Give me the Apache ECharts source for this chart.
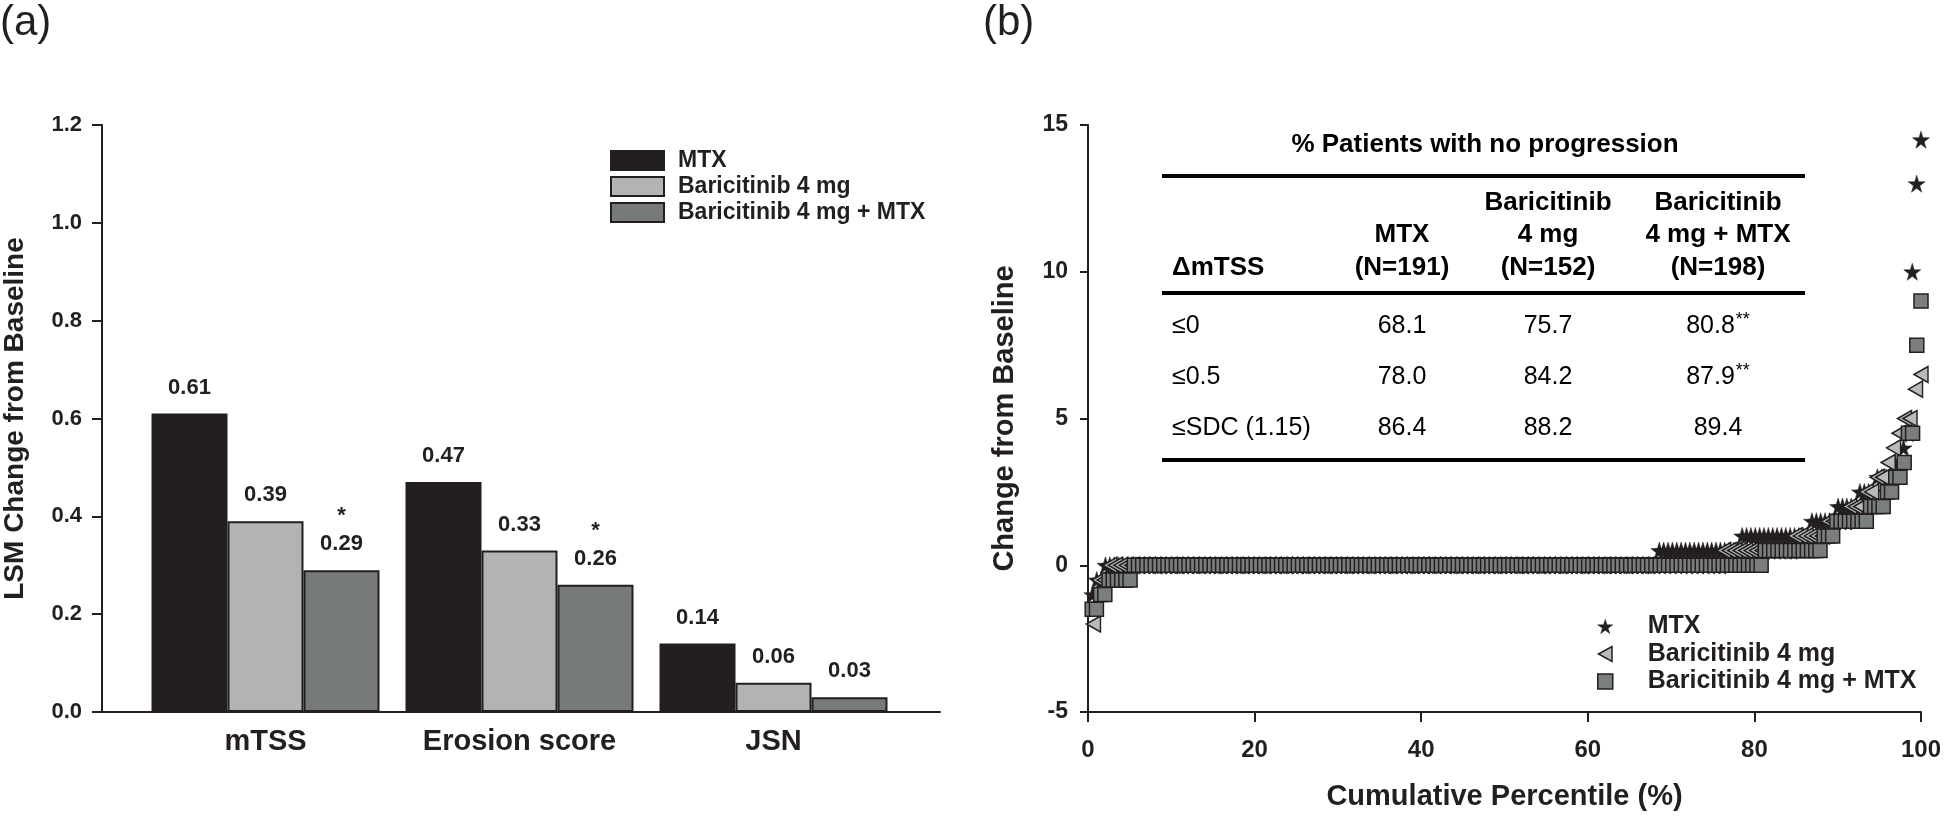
<!DOCTYPE html>
<html>
<head>
<meta charset="utf-8">
<script src="https://cdn.jsdelivr.net/npm/echarts@6/dist/echarts.min.js"></script>
<style>
html, body { margin: 0; padding: 0; background: #fff; }
#chart { width: 1946px; height: 816px; }
</style>
</head>
<body>
<div id="chart"></div>
<script>
// (a) LSM change from baseline
var categories = ["mTSS", "Erosion score", "JSN"];
var groupNames = ["MTX", "Baricitinib 4 mg", "Baricitinib 4 mg + MTX"];
var mtxChange = [0.61, 0.47, 0.14];
var bari4Change = [0.39, 0.33, 0.06];
var comboChange = [0.29, 0.26, 0.03];
var comboStars = ["*", "*", ""];

// (b) cumulative plot: [change in mTSS, number of patients]
var mtxRuns = [[-1, 1], [-0.5, 2], [0, 127], [0.5, 19], [1, 16], [1.5, 6], [2, 5], [2.5, 4],
  [3, 4], [3.5, 2], [4, 1], [4.5, 1], [10, 1], [13, 1], [14.5, 1]];
var bari4Runs = [[-2, 1], [-0.5, 2], [0, 112], [0.5, 13], [1, 6], [1.5, 4], [2, 3], [2.5, 2],
  [3, 2], [3.5, 1], [4, 1], [4.5, 1], [5, 2], [6, 1], [6.5, 1]];
var comboRuns = [[-1.5, 2], [-1, 2], [-0.5, 6], [0, 150], [0.5, 14], [1, 3], [1.5, 8], [2, 4],
  [2.5, 2], [3, 2], [3.5, 1], [4.5, 2], [7.5, 1], [9, 1]];

// inset table
var tableTitle = "% Patients with no progression";
var tableHeaders = ["MTX\n(N=191)", "Baricitinib\n4 mg\n(N=152)", "Baricitinib\n4 mg + MTX\n(N=198)"];
var tableRowLabels = ["≤0", "≤0.5", "≤SDC (1.15)"];
var tableValues = [["68.1", "75.7", "80.8"], ["78.0", "84.2", "87.9"], ["86.4", "88.2", "89.4"]];
var tableMarks = [["", "", "**"], ["", "", "**"], ["", "", ""]];

var font = "'Liberation Sans', Arial, sans-serif";
var ink = "#231f20";
var starPath = "path://M50,0 L61,35 L98,35 L68,57 L79,91 L50,70 L21,91 L32,57 L2,35 L39,35 Z";
var triPath = "path://M0,50 L90,0 L90,100 Z";

function cumulative(runs) {
  var vals = [];
  runs.forEach(function (r) { for (var i = 0; i < r[1]; i++) vals.push(r[0]); });
  return vals.map(function (v, i) { return [(i + 1) / vals.length * 100, v]; });
}

var myChart = echarts.init(document.getElementById("chart"));

var barLabel = {
  show: true, position: "top", distance: 12, fontSize: 22, fontWeight: "bold",
  lineHeight: 28, color: ink, fontFamily: font
};

var graphic = [
  { type: "text", x: 0, y: 23, style: { text: "(a)", font: "42px " + font, fill: ink, textVerticalAlign: "middle", verticalAlign: "middle" } },
  { type: "text", x: 983, y: 23, style: { text: "(b)", font: "42px " + font, fill: ink, textVerticalAlign: "middle", verticalAlign: "middle" } },
  { type: "text", x: 1485, y: 145, style: { text: tableTitle, font: "bold 26px " + font, fill: "#000",
    textAlign: "center", align: "center", textVerticalAlign: "middle", verticalAlign: "middle" } }
];
[176, 293, 460].forEach(function (y) {
  graphic.push({ type: "line", shape: { x1: 1162, y1: y, x2: 1805, y2: y }, style: { stroke: "#000", lineWidth: 4 } });
});
var colX = [1402, 1548, 1718];
graphic.push({ type: "text", x: 1172, y: 284, style: { text: "ΔmTSS", font: "bold 26px " + font, fill: "#000",
  textAlign: "left", align: "left", textVerticalAlign: "bottom", verticalAlign: "bottom", lineHeight: 32 } });
tableHeaders.forEach(function (h, i) {
  graphic.push({ type: "text", x: colX[i], y: 284, style: { text: h, font: "bold 26px " + font, fill: "#000",
    textAlign: "center", align: "center", textVerticalAlign: "bottom", verticalAlign: "bottom", lineHeight: 32.5 } });
});
var rowY = [326, 377, 428];
tableRowLabels.forEach(function (lab, r) {
  graphic.push({ type: "text", x: 1172, y: rowY[r], style: { text: lab, font: "25px " + font, fill: "#000",
    textAlign: "left", align: "left", textVerticalAlign: "middle", verticalAlign: "middle" } });
  tableValues[r].forEach(function (v, c) {
    var mark = tableMarks[r][c];
    graphic.push({ type: "text", x: colX[c], y: rowY[r], style: {
      text: "{v|" + v + "}" + (mark ? "{s|" + mark + "}" : ""),
      fill: "#000", textAlign: "center", align: "center", textVerticalAlign: "middle", verticalAlign: "middle",
      rich: {
        v: { fontSize: 25, fontFamily: font, lineHeight: 30 },
        s: { fontSize: 18, fontFamily: font, lineHeight: 30, verticalAlign: "top", padding: [0, 0, 12, 1] }
      }
    } });
  });
});

var option = {
  animation: false,
  textStyle: { fontFamily: font, color: ink },
  graphic: graphic,
  grid: [
    { left: 100, top: 125, width: 840, height: 587 },
    { left: 138.5, top: 125, width: 762, height: 587 },
    { left: 1088, top: 125, width: 833, height: 587 }
  ],
  legend: [
    {
      orient: "vertical", left: 605, top: 144, itemWidth: 53, itemHeight: 19, itemGap: 3,
      selectedMode: false, icon: "rect",
      data: groupNames,
      textStyle: { fontSize: 23, fontWeight: "bold", color: ink, fontFamily: font, padding: [0, 0, 0, 9] }
    },
    {
      orient: "vertical", left: 1592, top: 609, itemWidth: 15, itemHeight: 15, itemGap: 2.5,
      selectedMode: false,
      data: [
        { name: groupNames[0], icon: starPath, itemStyle: { color: ink, borderColor: ink, borderWidth: 0.5 } },
        { name: groupNames[1], icon: triPath, itemStyle: { color: "#b9bbbb", borderColor: ink, borderWidth: 1.5 } },
        { name: groupNames[2], icon: "rect", itemStyle: { color: "#7a7e7f", borderColor: ink, borderWidth: 1.5 } }
      ],
      textStyle: { fontSize: 25, fontWeight: "bold", color: ink, fontFamily: font, padding: [0, 0, 0, 30] }
    }
  ],
  xAxis: [
    { gridIndex: 0, type: "value", min: 0, max: 1, axisLine: { show: true, onZero: false, lineStyle: { color: ink, width: 2 } },
      axisTick: { show: false }, axisLabel: { show: false }, splitLine: { show: false } },
    { gridIndex: 1, type: "category", data: categories, axisLine: { show: false }, axisTick: { show: false },
      axisLabel: { fontSize: 29, fontWeight: "bold", color: ink, margin: 15 } },
    { gridIndex: 2, type: "value", min: 0, max: 100, interval: 20,
      axisLine: { show: true, onZero: false, lineStyle: { color: ink, width: 2 } },
      axisTick: { show: true, length: 10, lineStyle: { color: ink, width: 2 } },
      axisLabel: { fontSize: 24, fontWeight: "bold", color: ink, margin: 26 },
      splitLine: { show: false },
      name: "Cumulative Percentile (%)", nameLocation: "middle", nameGap: 70,
      nameTextStyle: { fontSize: 29, fontWeight: "bold", color: ink } }
  ],
  yAxis: [
    { gridIndex: 0, type: "value", min: 0, max: 1.2, interval: 0.2,
      axisLine: { show: true, lineStyle: { color: ink, width: 2 } },
      axisTick: { show: true, length: 10, lineStyle: { color: ink, width: 2 } },
      axisLabel: { fontSize: 22, fontWeight: "bold", color: ink, margin: 20,
        formatter: function (v) { return v.toFixed(1); } },
      splitLine: { show: false },
      name: "LSM Change from Baseline", nameLocation: "middle", nameGap: 73,
      nameTextStyle: { fontSize: 28, fontWeight: "bold", color: ink } },
    { gridIndex: 1, type: "value", min: 0, max: 1.2, show: false },
    { gridIndex: 2, type: "value", min: -5, max: 15, interval: 5,
      axisLine: { show: true, onZero: false, lineStyle: { color: ink, width: 2 } },
      axisTick: { show: true, length: 8, lineStyle: { color: ink, width: 2 } },
      axisLabel: { fontSize: 23, fontWeight: "bold", color: ink, margin: 20 },
      splitLine: { show: false },
      name: "Change from Baseline", nameLocation: "middle", nameGap: 69,
      nameTextStyle: { fontSize: 29, fontWeight: "bold", color: ink } }
  ],
  series: [
    { name: groupNames[0], type: "bar", xAxisIndex: 1, yAxisIndex: 1, data: mtxChange, barWidth: 76, barGap: "0%",
      itemStyle: { color: ink, borderColor: ink, borderWidth: 2 },
      label: Object.assign({}, barLabel, { formatter: function (p) { return p.value.toFixed(2); } }) },
    { name: groupNames[1], type: "bar", xAxisIndex: 1, yAxisIndex: 1, data: bari4Change, barWidth: 76, barGap: "0%",
      itemStyle: { color: "#b2b4b3", borderColor: ink, borderWidth: 2 },
      label: Object.assign({}, barLabel, { formatter: function (p) { return p.value.toFixed(2); } }) },
    { name: groupNames[2], type: "bar", xAxisIndex: 1, yAxisIndex: 1, data: comboChange, barWidth: 76, barGap: "0%",
      itemStyle: { color: "#767a7b", borderColor: ink, borderWidth: 2 },
      label: Object.assign({}, barLabel, { formatter: function (p) {
        return (comboStars[p.dataIndex] ? comboStars[p.dataIndex] + "\n" : "") + p.value.toFixed(2);
      } }) },
    { name: groupNames[0], type: "scatter", xAxisIndex: 2, yAxisIndex: 2, data: cumulative(mtxRuns),
      symbol: starPath, symbolSize: 17, itemStyle: { color: ink, borderColor: ink, borderWidth: 0.5, opacity: 1 } },
    { name: groupNames[1], type: "scatter", xAxisIndex: 2, yAxisIndex: 2, data: cumulative(bari4Runs),
      symbol: triPath, symbolSize: [14, 16], itemStyle: { color: "#b9bbbb", borderColor: ink, borderWidth: 1.5, opacity: 1 } },
    { name: groupNames[2], type: "scatter", xAxisIndex: 2, yAxisIndex: 2, data: cumulative(comboRuns),
      symbol: "rect", symbolSize: 14, itemStyle: { color: "#7a7e7f", borderColor: ink, borderWidth: 1.5, opacity: 1 } }
  ]
};
myChart.setOption(option);
</script>
</body>
</html>
